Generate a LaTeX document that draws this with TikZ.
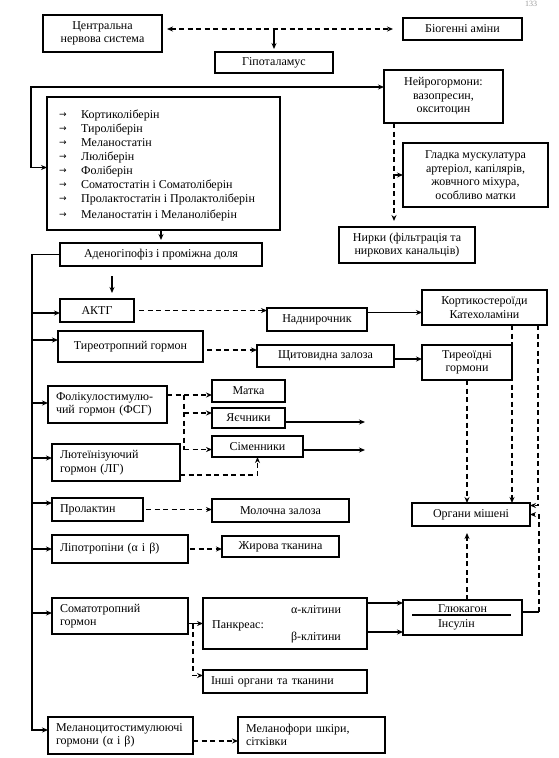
\documentclass[tikz,border=0pt]{standalone}
\usepackage{fontspec}
\setmainfont{Liberation Serif}
\newfontfamily\arrfont{DejaVu Sans}
\usetikzlibrary{arrows.meta,calc}
\newcommand\fsz{\fontsize{12}{13.5}\selectfont}
\tikzset{
 box/.style={draw, line width=1.4pt, inner xsep=4pt, inner ysep=1pt, outer sep=0pt, align=center, font=\fsz},
 lbox/.style={box, align=left, inner xsep=8pt},
 line/.style={line width=1.2pt},
 arr/.style={line width=1.2pt, -{Stealth[length=6pt,width=5pt]}},
 darr/.style={arr, dash pattern=on 5pt off 3.5pt},
 darrb/.style={line width=1.2pt, dash pattern=on 5pt off 3.5pt, {Stealth[length=6pt,width=5pt]}-{Stealth[length=6pt,width=5pt]}},
 dline/.style={line, dash pattern=on 5pt off 3.5pt},
 txt/.style={inner sep=1pt, font=\fsz},
}
\newcommand\Bx[7][]{\node[box,#1,minimum width={#4-#2},minimum height={#5-#3}] (#6) at ({(#2+#4)/2},{(#3+#5)/2}) {#7};}
\begin{document}
\begin{tikzpicture}[x=1pt,y=-1pt]
\useasboundingbox (0,0) rectangle (558,758);
\fill[white] (0,0) rectangle (558,758);
\node[text=black!40, font=\fontsize{8}{8}\selectfont, inner sep=0pt, anchor=north] (pg) at (531,1.5) {133};

\Bx{43}{15}{162}{52}{cns}{Центральна\\нервова система}
\Bx{403}{18}{522}{40}{bio}{Біогенні аміни}
\Bx{215}{52}{333}{73}{hyp}{Гіпоталамус}
\Bx{384}{70}{503}{123}{neuro}{Нейрогормони:\\вазопресин,\\окситоцин}
\Bx{47}{97}{280}{230}{list}{}
\Bx{403}{143}{548}{207}{glad}{Гладка мускулатура\\артеріол, капілярів,\\жовчного міхура,\\особливо матки}
\Bx{339}{227}{475}{263}{nyr}{Нирки (фільтрація та\\ниркових канальців)}
\Bx{60}{243}{262}{266}{aden}{Аденогіпофіз і проміжна доля}
\Bx{60}{299}{134}{322}{acth}{АКТГ}
\Bx{267}{308}{367}{331}{nadn}{Наднирочник}
\Bx{422}{290}{547}{325}{kort}{Кортикостероїди\\Катехоламіни}
\Bx{58}{331}{203}{362}{ttg}{Тиреотропний гормон}
\Bx{257}{345}{394}{367}{shch}{Щитовидна залоза}
\Bx{422}{345}{512}{380}{tyr}{Тиреоїдні\\гормони}
\Bx[lbox,text width=103pt]{48}{386}{167}{423}{fsg}{Фолікулостимулю-\\чий гормон (ФСГ)}
\Bx{212}{380}{285}{402}{matka}{Матка}
\Bx{212}{408}{285}{428}{yaech}{Яєчники}
\Bx{212}{436}{303}{457}{sim}{Сіменники}
\Bx[lbox,text width=112pt]{52}{444}{180}{481}{lg}{Лютеїнізуючий\\гормон (ЛГ)}
\Bx[lbox,text width=75pt]{52}{498}{143}{521}{prl}{Пролактин}
\Bx{212}{499}{349}{522}{mol}{Молочна залоза}
\Bx{412}{503}{530}{526}{org}{Органи мішені}
\Bx[lbox,text width=120pt]{52}{535}{188}{563}{lip}{Ліпотропіни (α і β)}
\Bx{222}{536}{339}{557}{fat}{Жирова тканина}
\Bx[lbox,text width=120pt]{52}{598}{188}{634}{stg}{Соматотропний\\гормон}
\Bx{203}{598}{367}{649}{pan}{}
\Bx[align=left]{403}{600}{522}{635}{gluc}{Глюкагон\\[2pt]Інсулін}
\Bx[lbox,text width=148pt]{203}{670}{367}{693}{inshi}{Інші органи та тканини}
\Bx[lbox,text width=129pt]{48}{717}{193}{754}{mel}{Меланоцитостимулюючі\\гормони (α і β)}
\Bx[lbox,text width=131pt]{238}{717}{385}{753}{melf}{Меланофори шкіри,\\сітківки}

\node[txt, anchor=west] (pant) at ($(pan.west)+(8,2)$) {Панкреас:};
\node[txt] (alf) at ($(pan.center)+(31,-13.5)$) {α-клітини};
\node[txt] (bet) at ($(pan.center)+(31,14.5)$) {β-клітини};

\foreach \t/\yy [count=\i] in {Кортиколіберін/115, Тироліберін/129, Меланостатін/143, Люліберін/157, Фоліберін/171, Соматостатін і Соматоліберін/185, Пролактостатін і Пролактоліберін/199, Меланостатін і Меланоліберін/215} {
 \node[txt, anchor=west] (it\i) at (80,\yy) {\t};
 \node[inner sep=0pt, font=\arrfont\fontsize{9}{9}\selectfont] (ia\i) at (63,\yy) {→};
}

% top
\draw[darrb, shorten <=5pt, shorten >=10pt] (cns.east |- bio.west) -- (bio.west);
\draw[arr, shorten >=3pt] (hyp.north |- bio.west) -- (hyp.north);
\coordinate (lt) at ($(list.west)+(-16,4)$);
\draw[arr] (lt) |- ($(neuro.west)+(0,-9.5)$);
\draw[arr] (lt) -- (lt -| list.west);
\draw[arr, shorten >=3pt] (aden.north |- list.south) -- (aden.north);
% trunk
\coordinate (tr) at ($(aden.west)+(-28,0)$);
\coordinate (mb) at ($(mel.west)+(0,-5.5)$);
\draw[arr, line width=1.4pt] (aden.west) -| (tr |- mb) -- (mb);
\foreach \n/\dy in {acth/2.5, ttg/-6.5, fsg/-1.5, lg/-4.5, prl/-6.5, lip/0, stg/-3} {
 \coordinate (b\n) at ($(\n.west)+(0,\dy)$);
 \draw[arr] (tr |- b\n) -- (b\n);
}
\draw[arr, shorten >=6pt] ($(aden.south)+(-49,10)$) -- (acth.north -| {$(aden.south)+(-49,0)$});
% ACTH
\draw[darr, shorten <=5pt] (acth.east) -- (acth.east -| nadn.west);
\coordinate (nd) at ($(nadn.east)+(0,-7)$);
\draw[arr] (nd) -- (nd -| kort.west);
% TTG
\coordinate (tt) at ($(ttg.east)+(0,3.5)$);
\draw[darr, shorten <=4pt] (tt) -- (tt -| shch.west);
\coordinate (sh) at ($(shch.east)+(0,3)$);
\draw[arr] (sh) -- (sh -| tyr.west);
% FSG
\coordinate (f1) at ($(fsg.east)+(0,-9.5)$);
\coordinate (fv) at ($(f1)+(17,0)$);
\draw[darr] (f1) -- (f1 -| matka.west);
\coordinate (ye) at ($(yaech.west)+(0,-5)$);
\coordinate (si) at ($(sim.west)+(0,3)$);
\draw[dline] (fv) -- (fv |- si);
\draw[darr] (fv |- ye) -- (ye);
\draw[darr] (fv |- si) -- (si);
\coordinate (yo) at ($(yaech.east)+(0,4)$);
\coordinate (yoe) at ($(yo)+(80,0)$);
\draw[arr] (yo) -- (yoe);
\coordinate (so) at ($(sim.east)+(0,3.5)$);
\coordinate (soe) at ($(so)+(62,0)$);
\draw[arr] (so) -- (soe);
% LG
\coordinate (l1) at ($(lg.east)+(0,12.5)$);
\draw[darr] (l1) -| (sim.south);
% PRL, LIP
\draw[darr, shorten <=3pt] (prl.east) -- (prl.east -| mol.west);
\draw[darr, shorten <=2pt] (lip.east) -- (lip.east -| fat.west);
% STG
\coordinate (s1) at (stg.east |- pan.west);
\draw[arr] (s1) -- (pan.west);
\coordinate (s2) at ($(s1)+(5,0)$);
\coordinate (s3) at ($(inshi.west)+(0,-6)$);
\draw[darr] (s2) |- (s3);
% pancreas -> glucagon
\coordinate (a1) at ($(pan.east)+(0,-20.5)$);
\coordinate (a2) at ($(pan.east)+(0,8.5)$);
\draw[arr] (a1) -- (a1 -| gluc.west);
\draw[arr] (a2) -- (a2 -| gluc.west);
\draw[line] ($(gluc.west)+(9,-2.5)$) -- ($(gluc.east)+(-11,-2.5)$);
\coordinate (g1) at ($(gluc.east)+(0,-5.5)$);
\coordinate (g2) at ($(g1)+(17,0)$);
\draw[line] (g1) -- (g2);
\draw[darr] (g2) |- (org.east);
% to target organs
\coordinate (k1) at ($(kort.south)+(27.5,0)$);
\coordinate (k2) at ($(kort.south)+(53.5,0)$);
\draw[darr] (k1) -- (k1 |- org.north);
\draw[darr] (k2) |- ($(org.east)+(0,-9)$);
\draw[darr] (tyr.south) -- (tyr.south |- org.north);
\draw[darr, shorten >=7pt] (gluc.north -| tyr.south) -- (tyr.south |- org.south);
% MSH
\coordinate (m1) at ($(mel.east)+(0,5.5)$);
\draw[darr] (m1) -- (m1 -| melf.west);
% neurohormones
\coordinate (n1) at ($(neuro.south)+(-49.5,0)$);
\draw[darr, shorten >=6pt] (n1) -- (n1 |- nyr.north);
\draw[arr] (n1 |- glad.west) -- (glad.west);
\end{tikzpicture}
\end{document}
